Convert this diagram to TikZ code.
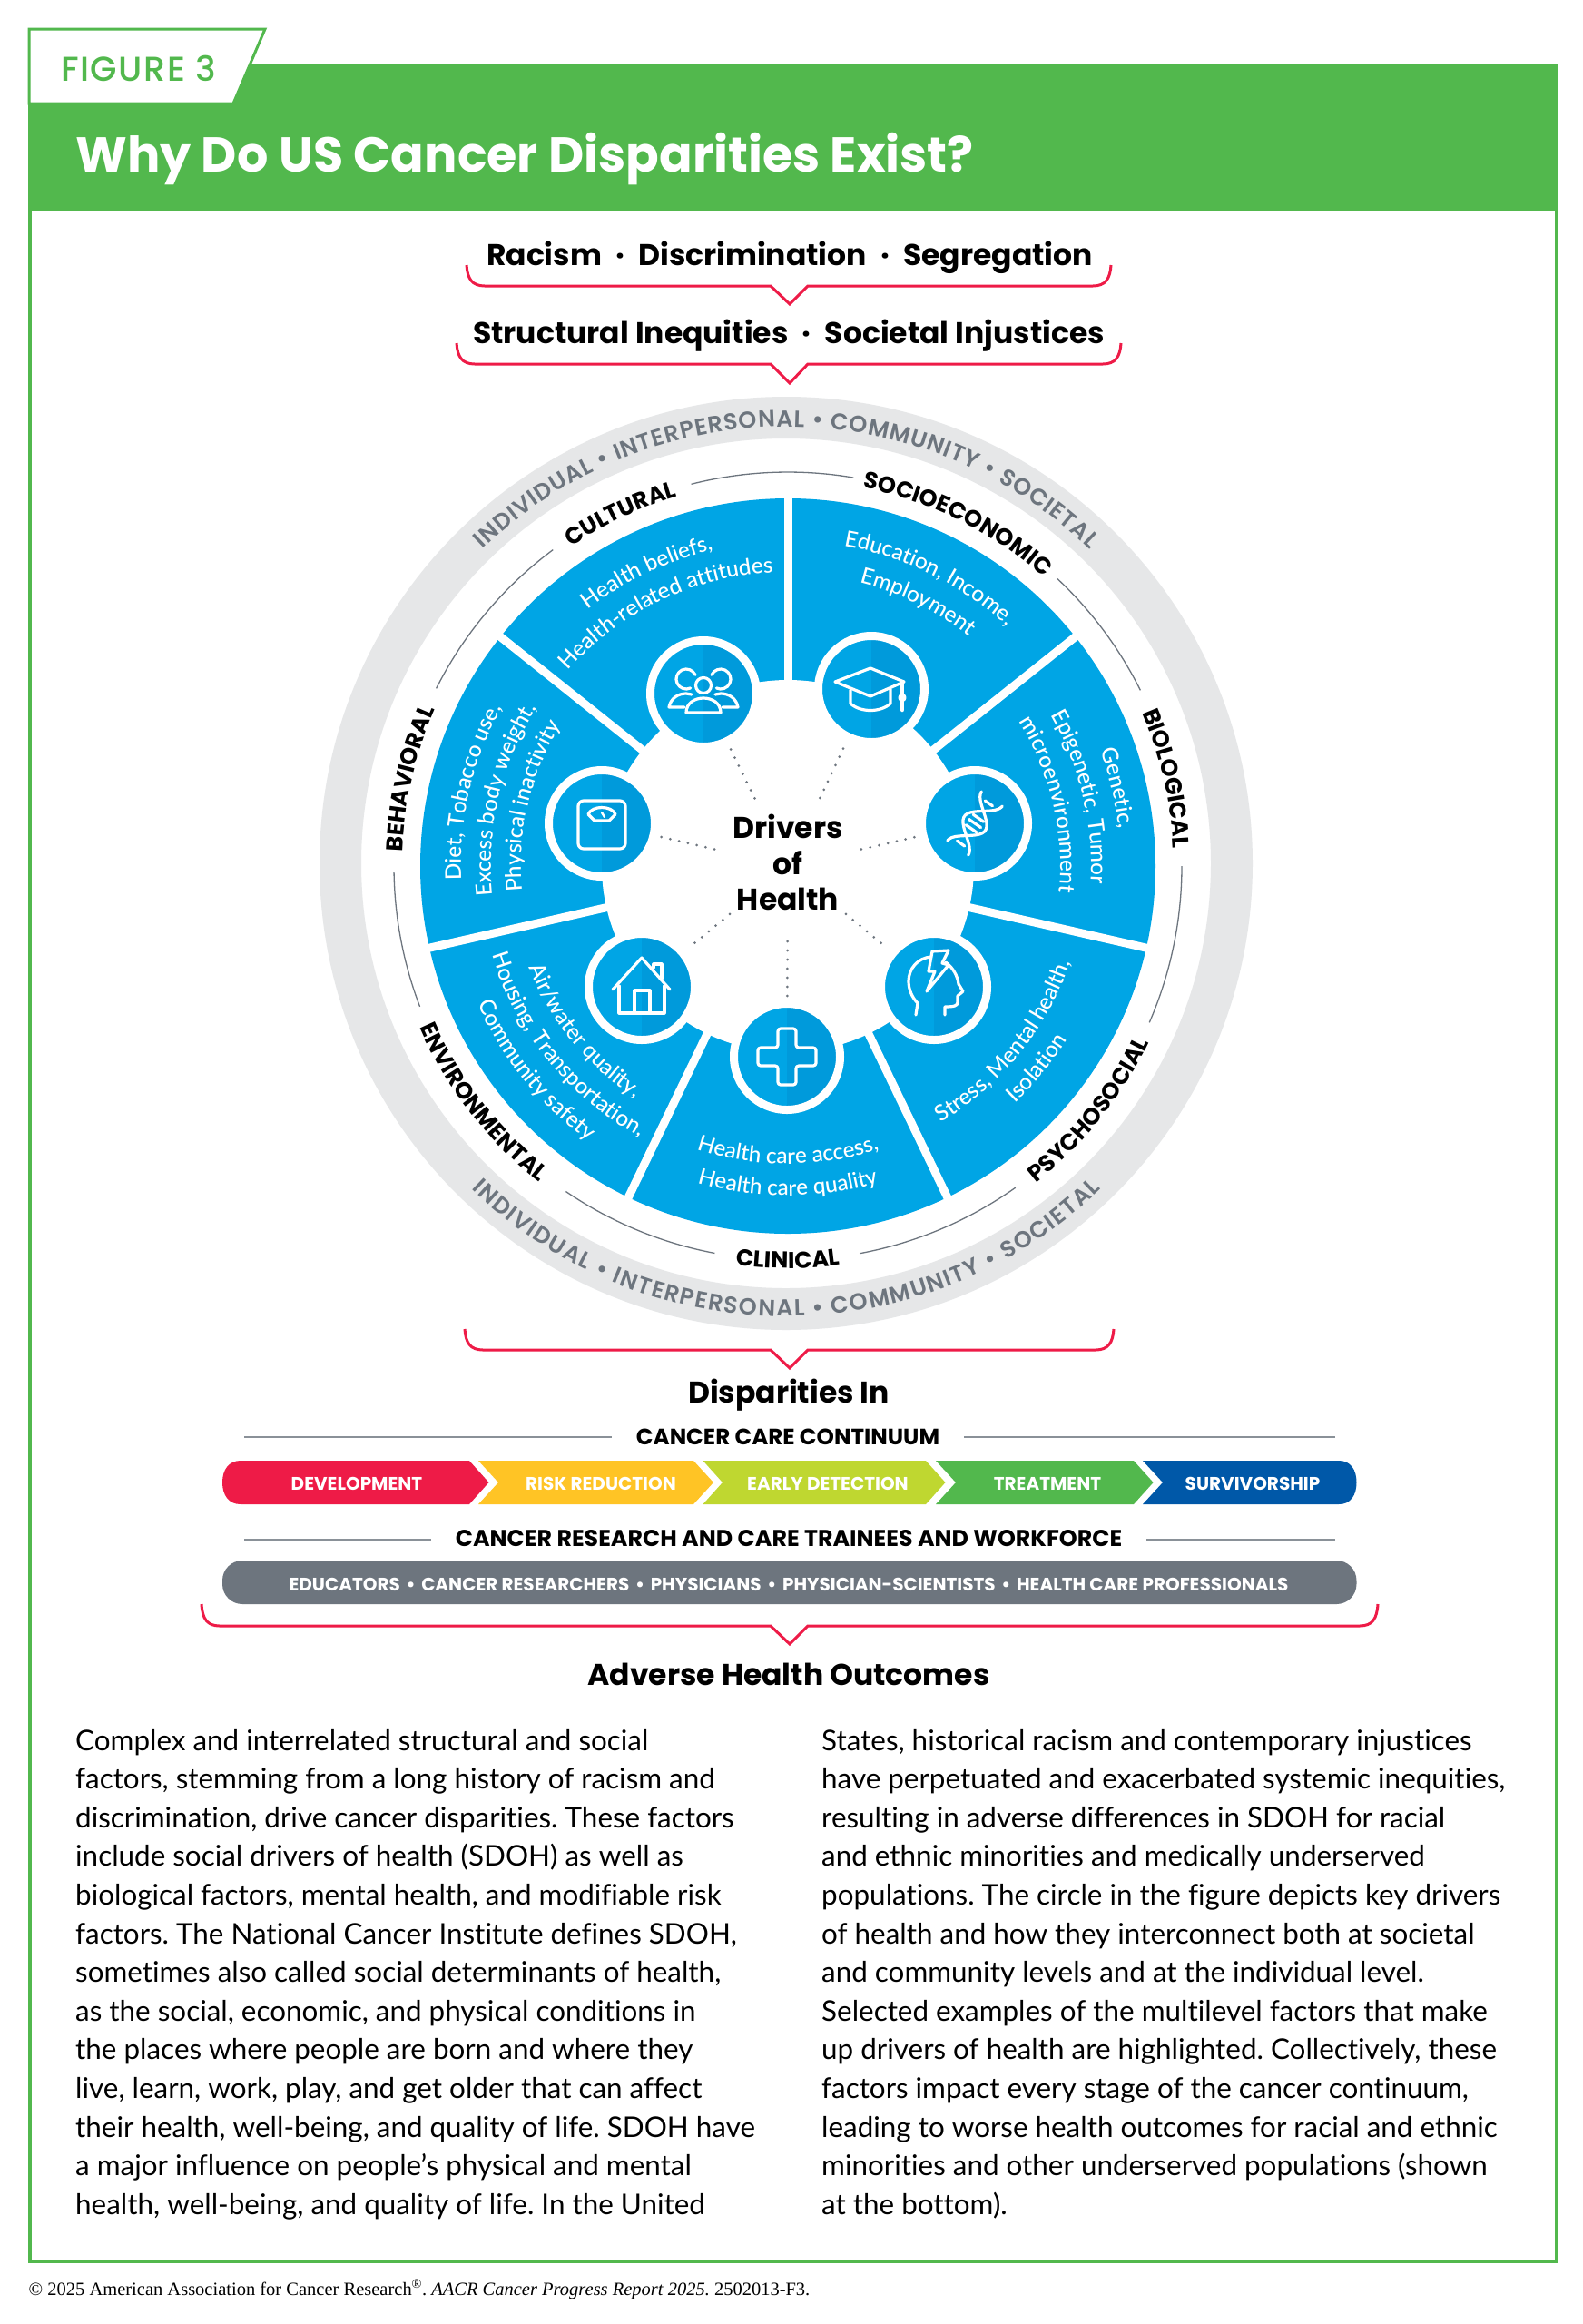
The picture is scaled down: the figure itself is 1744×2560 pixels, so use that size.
\documentclass[tikz,border=0pt]{standalone}
\usepackage{fontspec}
\usepackage{xcolor}
\usetikzlibrary{calc,decorations.text}
\setmainfont{Lato}[Ligatures=NoCommon]
\newfontfamily\capsface{Poppins}
\newfontfamily\capsmedium{Poppins Medium}
\newfontfamily\capssemi{Poppins SemiBold}
\newfontfamily\wedgeface{Lato Medium}[Ligatures=NoCommon]
\newfontfamily\footface{Liberation Serif}
\definecolor{figgreen}{HTML}{52B84D}
\definecolor{wedgeblue}{HTML}{00A5E5}
\definecolor{wedgedark}{HTML}{009ADB}
\definecolor{ringgray}{HTML}{E6E7E8}
\definecolor{slategray}{HTML}{6D757E}
\definecolor{bracketred}{HTML}{EE1B47}
\definecolor{stepamber}{HTML}{FFC425}
\definecolor{steplime}{HTML}{BFD730}
\definecolor{stepnavy}{HTML}{0058A8}
\newcommand{\wedgeFont}{\wedgeface\fontsize{24.3}{30}\selectfont\color{white}}
\newcommand{\labelFont}{\capsface\bfseries\fontsize{25.5}{28}\selectfont\color{black}}
\newcommand{\ringFont}{\capssemi\fontsize{25.5}{28}\selectfont\color{slategray}}
\newcommand{\dotGap}{\hspace{.46em}·\hspace{.46em}}
\newcommand{\curveTop}[4]{\path[decorate,decoration={text along path,text align={center},text={|#3|#4}}] ($(hub)+(#2+85:#1pt)$) arc[start angle=#2+85,end angle=#2-85,radius=#1pt];}
\newcommand{\curveLow}[4]{\path[decorate,decoration={text along path,text align={center},text={|#3|#4}}] ($(hub)+(#2-85:#1pt)$) arc[start angle=#2-85,end angle=#2+85,radius=#1pt];}
\newcommand{\thinArc}[2]{\draw[thinarc] ($(hub)+(#1:434pt)$) arc[start angle=#1,end angle=#2,radius=434pt];}
\newcommand{\redBracket}[5]{\draw[bracketline] (#1,#3) .. controls (#1+1,#4-8) and (#1+6,#4) .. (#1+20,#4) -- (849,#4) -- (870,#5) -- (890,#4) -- (#2-20,#4) .. controls (#2-6,#4) and (#2-1,#4-8) .. (#2,#3);}
\newcommand{\iconPeople}{
\draw[iconline] ($(-19,-16)+(25:11pt)$) arc[start angle=25,end angle=295,radius=11pt];
\draw[iconline] ($(19,-16)+(155:11pt)$) arc[start angle=155,end angle=-115,radius=11pt];
\draw[iconline] (0,-9) circle[radius=8.5pt];
\draw[iconline] (-21,15) -- (-38,15) .. controls (-36,5) and (-28,0) .. (-19,0) -- (-13,1);
\draw[iconline] (21,15) -- (38,15) .. controls (36,5) and (28,0) .. (19,0) -- (13,1);
\draw[iconline] (-19,21) .. controls (-19,10) and (-9,5) .. (0,5) .. controls (9,5) and (19,10) .. (19,21) -- cycle;
}
\newcommand{\iconCap}{
\draw[iconline] (-1,-23) -- (-40,-8) -- (-1,8) -- (36,-8) -- cycle;
\draw[iconline] (-23,1) -- (-23,16) .. controls (-12,26) and (10,26) .. (21,16) -- (21,0);
\draw[iconline] (34,-8) -- (34,5);
\draw[iconline,fill=white] (34,9.5) circle[radius=3pt];
\draw[iconline,line width=4.5pt] (34,12) -- (34,23);
}
\newcommand{\iconScale}{
\draw[iconline,rounded corners=6pt] (-26,-25) rectangle (26,28);
\draw[iconline] (-15,-10) .. controls (-11,-20) and (11,-20) .. (15,-10) -- (8,-3) -- (-8,-3) -- cycle;
\draw[iconline,line width=2.4pt] (0,-12) -- (3,-7);
}
\newcommand{\iconHelix}{
\draw[iconline] plot[smooth,domain=-33:33,samples=24] ({\x*0.57+14*cos(5.45*\x)*0.82},{\x*(-0.82)+14*cos(5.45*\x)*0.57});
\draw[iconline] plot[smooth,domain=-33:33,samples=24] ({\x*0.57-14*cos(5.45*\x)*0.82},{\x*(-0.82)-14*cos(5.45*\x)*0.57});
\foreach \t/\h in {-7/7,0/8,7/7,-27/5,27/5}
  \draw[iconline] ({\t*0.57-\h*0.82},{\t*(-0.82)-\h*0.57}) -- ({\t*0.57+\h*0.82},{\t*(-0.82)+\h*0.57});
}
\newcommand{\iconHead}{
\draw[iconline] (-20,31) -- (-18,18) .. controls (-24,12) and (-28,3) .. (-28,-6) .. controls (-28,-20) and (-18,-32) .. (-3,-33);
\draw[iconline] (13,-27) .. controls (21,-21) and (26,-12) .. (27,-3) -- (32,5) -- (26,10) -- (26,17) .. controls (26,21) and (22,22) .. (12,22) -- (12,31);
\draw[iconline] (-2,-39) -- (16,-40) -- (9,-26) -- (16,-24) -- (-8,5) -- (1,-17) -- (-6,-17) -- cycle;
}
\newcommand{\iconHouse}{
\draw[iconline] (-32,3) -- (0,-32) -- (31,3);
\draw[iconline] (-25,-1) -- (-25,29) -- (25,29) -- (25,-1);
\draw[iconline] (-8,29) -- (-8,4) -- (9,4) -- (9,29);
\draw[iconline] (13,-21) -- (13,-25) -- (22,-25) -- (22,-9);
}
\newcommand{\iconCross}{
\draw[iconline,rounded corners=3pt] (-10,-31) -- (10,-31) -- (10,-10) -- (32,-10) -- (32,10) -- (10,10) -- (10,31) -- (-10,31) -- (-10,10) -- (-32,10) -- (-32,-10) -- (-10,-10) -- cycle;
}
\tikzset{
  bodyline/.style={anchor=base west,inner sep=0pt,font=\frenchspacing\fontsize{31.4}{38}\selectfont},
  headline/.style={anchor=base,inner sep=0pt,font=\capsface\bfseries\fontsize{33}{40}\selectfont},
  steptext/.style={anchor=base,inner sep=0pt,text=white,font=\capsface\bfseries\fontsize{20}{26}\selectfont},
  rulehead/.style={anchor=base,inner sep=27pt,font=\capsface\bfseries\fontsize{25}{32}\selectfont},
  ruleline/.style={draw=slategray!80,line width=2.5pt},
  bracketline/.style={draw=bracketred,line width=3pt,line join=miter},
  thinarc/.style={draw=slategray,line width=1.3pt},
  iconline/.style={draw=white,line width=3.2pt,line join=round,line cap=round},
  icondisc/.style={circle,fill=wedgeblue,draw=white,line width=9pt,minimum size=117pt,inner sep=0pt,outer sep=0pt,
    path picture={\fill[wedgedark] (path picture bounding box.south) rectangle (path picture bounding box.north east);}},
  dotlink/.style={draw=slategray,line width=3pt,line cap=round,dash pattern=on 0pt off 10pt,shorten <=83pt,shorten >=8pt},
}
\begin{document}
\begin{tikzpicture}[x=1pt,y=-1pt]
\useasboundingbox (0,0) rectangle (1744,2560);
\fill[white] (0,0) rectangle (1744,2560);
\fill[figgreen] (33,72) rectangle (1715,232);
\draw[figgreen,line width=3.5pt] (33,72) rectangle (1715,2491);
\filldraw[fill=white,draw=figgreen,line width=3pt] (32,32) -- (292,32) -- (257,114) -- (32,114) -- cycle;
\node[anchor=base west,inner sep=0pt,text=figgreen] (figtag) at (67,89) {\capsmedium\addfontfeature{LetterSpace=4}\fontsize{38}{42}\selectfont FIGURE 3};
\node[anchor=base west,inner sep=0pt,text=white] (figtitle) at (83,189) {\capsface\bfseries\fontsize{54}{60}\selectfont Why Do US Cancer Disparities Exist?};
\node[headline] (rootcauses) at (870,292) {Racism\dotGap Discrimination\dotGap Segregation};
\redBracket{514}{1224}{292}{315}{335}
\node[headline] (inequities) at (869,378) {Structural Inequities\dotGap Societal Injustices};
\redBracket{503}{1235}{378}{401}{422}
\coordinate (ringc) at (866,951);
\coordinate (hub) at (868,954);
\fill[ringgray,even odd rule] (ringc) circle[radius=514pt] (ringc) circle[radius=468pt];
\path[decorate,decoration={text along path,text align={fit to path},text={|\ringFont|INDIVIDUAL • INTERPERSONAL • COMMUNITY • SOCIETAL}}] ($(ringc)+(134:481pt)$) arc[start angle=134,end angle=46,radius=481pt];
\path[decorate,decoration={text along path,text align={fit to path},text={|\ringFont|INDIVIDUAL • INTERPERSONAL • COMMUNITY • SOCIETAL}}] ($(ringc)+(-134:499pt)$) arc[start angle=-134,end angle=-46,radius=499pt];
\thinArc{104.2}{80.4}
\thinArc{46.8}{26.5}
\thinArc{0}{-23.4}
\thinArc{-54.7}{-79.5}
\thinArc{-100.7}{-124.3}
\thinArc{200.9}{180.9}
\thinArc{153.2}{126.6}
\curveTop{425}{115.4}{\labelFont}{CULTURAL}
\curveTop{425}{63.6}{\labelFont}{SOCIOECONOMIC}
\curveTop{425}{13}{\labelFont}{BIOLOGICAL}
\curveTop{425}{167}{\labelFont}{BEHAVIORAL}
\curveLow{443}{-39}{\labelFont}{PSYCHOSOCIAL}
\curveLow{443}{-90}{\labelFont}{CLINICAL}
\curveLow{443}{-142.3}{\labelFont}{ENVIRONMENTAL}
\fill[wedgeblue] (hub) circle[radius=405pt];
\foreach \ang in {90,141.43,192.86,244.29,295.71,347.14,38.57}
  \draw[white,line width=9pt] ($(hub)+(\ang:190pt)$) -- ($(hub)+(\ang:410pt)$);
\fill[white] (hub) circle[radius=205pt];
\node[inner sep=0pt,align=center,font=\capsface\bfseries\fontsize{33}{39.5}\selectfont] (drivers) at (868,950) {Drivers\\of\\Health};
\node[icondisc] (cultural) at (775,764) {};
\node[icondisc] (socioeconomic) at (960,759) {};
\node[icondisc] (biological) at (1074,907) {};
\node[icondisc] (psychosocial) at (1029,1087) {};
\node[icondisc] (clinical) at (867,1164) {};
\node[icondisc] (environmental) at (707,1087) {};
\node[icondisc] (behavioral) at (663,907) {};
\begin{scope}[shift={(cultural.center)}]\iconPeople\end{scope}
\begin{scope}[shift={(socioeconomic.center)}]\iconCap\end{scope}
\begin{scope}[shift={(biological.center)}]\iconHelix\end{scope}
\begin{scope}[shift={(psychosocial.center)}]\iconHead\end{scope}
\begin{scope}[shift={(clinical.center)}]\iconCross\end{scope}
\begin{scope}[shift={(environmental.center)}]\iconHouse\end{scope}
\begin{scope}[shift={(behavioral.center)}]\iconScale\end{scope}
\foreach \disc in {cultural,socioeconomic,biological,psychosocial,clinical,environmental,behavioral}
  \draw[dotlink] (hub) -- (\disc);
\curveTop{358}{115.6}{\wedgeFont}{Health beliefs,}
\curveTop{324}{115.6}{\wedgeFont}{Health-related attitudes}
\curveTop{358}{63.8}{\wedgeFont}{Education, Income,}
\curveTop{322}{63.8}{\wedgeFont}{Employment}
\curveTop{367}{13.3}{\wedgeFont}{Genetic,}
\curveTop{334}{13.3}{\wedgeFont}{Epigenetic, Tumor}
\curveTop{300}{13.3}{\wedgeFont}{microenvironment}
\curveTop{360}{166.8}{\wedgeFont}{Diet, Tobacco use,}
\curveTop{327}{166.8}{\wedgeFont}{Excess body weight,}
\curveTop{294}{166.8}{\wedgeFont}{Physical inactivity}
\curveLow{329}{-39}{\wedgeFont}{Stress, Mental health,}
\curveLow{362}{-39}{\wedgeFont}{Isolation}
\curveLow{328}{-90}{\wedgeFont}{Health care access,}
\curveLow{363}{-90}{\wedgeFont}{Health care quality}
\curveLow{306}{-141}{\wedgeFont}{Air/water quality,}
\curveLow{340}{-141}{\wedgeFont}{Housing, Transportation,}
\curveLow{374}{-141}{\wedgeFont}{Community safety}
\redBracket{512}{1227}{1464}{1487}{1507}
\node[headline] (disparities) at (869,1545) {Disparities In};
\coordinate (careruleL) at (269,1583);
\coordinate (careruleR) at (1471,1583);
\node[rulehead,font=\capsface\bfseries\fontsize{24.6}{32}\selectfont] (carehead) at (868,1591) {CANCER CARE CONTINUUM};
\draw[ruleline] (careruleL) -- (careruleL -| carehead.west);
\draw[ruleline] (careruleR) -- (careruleR -| carehead.east);
\fill[bracketred] (517,1609) -- (538.5,1633) -- (517,1657) -- (265,1657) .. controls (252,1657) and (245,1647) .. (245,1633) .. controls (245,1619) and (252,1609) .. (265,1609) -- cycle;
\fill[stepamber] (527,1609) -- (764,1609) -- (786,1633) -- (764,1657) -- (527,1657) -- (549,1633) -- cycle;
\fill[steplime] (774.5,1609) -- (1020,1609) -- (1041.5,1633) -- (1020,1657) -- (774.5,1657) -- (796,1633) -- cycle;
\fill[figgreen] (1031,1609) -- (1249,1609) -- (1270.6,1633) -- (1249,1657) -- (1031,1657) -- (1053,1633) -- cycle;
\fill[stepnavy] (1259,1609) -- (1475,1609) .. controls (1488,1609) and (1494.5,1619) .. (1494.5,1633) .. controls (1494.5,1647) and (1488,1657) .. (1475,1657) -- (1259,1657) -- (1281,1633) -- cycle;
\node[steptext] (stepdev) at (393,1641) {DEVELOPMENT};
\node[steptext] (steprisk) at (662,1641) {RISK REDUCTION};
\node[steptext] (stepearly) at (912,1641) {EARLY DETECTION};
\node[steptext] (steptreat) at (1154,1641) {TREATMENT};
\node[steptext] (stepsurv) at (1380,1641) {SURVIVORSHIP};
\coordinate (forceruleL) at (269,1696);
\coordinate (forceruleR) at (1471,1696);
\node[rulehead,font=\capsface\bfseries\fontsize{25.3}{32}\selectfont] (forcehead) at (869,1703) {CANCER RESEARCH AND CARE TRAINEES AND WORKFORCE};
\draw[ruleline] (forceruleL) -- (forceruleL -| forcehead.west);
\draw[ruleline] (forceruleR) -- (forceruleR -| forcehead.east);
\fill[slategray,rounded corners=22pt] (245,1719) rectangle (1494.5,1767);
\node[steptext] (forcelist) at (869,1752) {EDUCATORS\,\,•\,\,CANCER RESEARCHERS\,\,•\,\,PHYSICIANS\,\,•\,\,PHYSICIAN-SCIENTISTS\,\,•\,\,HEALTH CARE PROFESSIONALS};
\redBracket{222}{1518}{1767}{1791}{1811}
\node[headline] (outcomes) at (869,1856) {Adverse Health Outcomes};
\node[bodyline] (bl1) at (83,1928) {Complex and interrelated structural and social};
\node[bodyline] (bl2) at (83,1970.6) {factors, stemming from a long history of racism and};
\node[bodyline] (bl3) at (83,2013.2) {discrimination, drive cancer disparities. These factors};
\node[bodyline] (bl4) at (83,2055.8) {include social drivers of health (SDOH) as well as};
\node[bodyline] (bl5) at (83,2098.4) {biological factors, mental health, and modifiable risk};
\node[bodyline] (bl6) at (83,2141) {factors. The National Cancer Institute defines SDOH,};
\node[bodyline] (bl7) at (83,2183.6) {sometimes also called social determinants of health,};
\node[bodyline] (bl8) at (83,2226.2) {as the social, economic, and physical conditions in};
\node[bodyline] (bl9) at (83,2268.8) {the places where people are born and where they};
\node[bodyline] (bl10) at (83,2311.4) {live, learn, work, play, and get older that can affect};
\node[bodyline] (bl11) at (83,2354) {their health, well-being, and quality of life. SDOH have};
\node[bodyline] (bl12) at (83,2396.6) {a major influence on people’s physical and mental};
\node[bodyline] (bl13) at (83,2439.2) {health, well-being, and quality of life. In the United};
\node[bodyline] (br1) at (905,1928) {States, historical racism and contemporary injustices};
\node[bodyline] (br2) at (905,1970.6) {have perpetuated and exacerbated systemic inequities,};
\node[bodyline] (br3) at (905,2013.2) {resulting in adverse differences in SDOH for racial};
\node[bodyline] (br4) at (905,2055.8) {and ethnic minorities and medically underserved};
\node[bodyline] (br5) at (905,2098.4) {populations. The circle in the figure depicts key drivers};
\node[bodyline] (br6) at (905,2141) {of health and how they interconnect both at societal};
\node[bodyline] (br7) at (905,2183.6) {and community levels and at the individual level.};
\node[bodyline] (br8) at (905,2226.2) {Selected examples of the multilevel factors that make};
\node[bodyline] (br9) at (905,2268.8) {up drivers of health are highlighted. Collectively, these};
\node[bodyline] (br10) at (905,2311.4) {factors impact every stage of the cancer continuum,};
\node[bodyline] (br11) at (905,2354) {leading to worse health outcomes for racial and ethnic};
\node[bodyline] (br12) at (905,2396.6) {minorities and other underserved populations (shown};
\node[bodyline] (br13) at (905,2439.2) {at the bottom).};
\node[anchor=base west,inner sep=0pt] (credit) at (31.5,2528) {\footface\frenchspacing\fontsize{20.5}{24}\selectfont © 2025 American Association for Cancer Research\textsuperscript{®}. \textit{AACR Cancer Progress Report 2025.} 2502013-F3.};
\end{tikzpicture}
\end{document}
